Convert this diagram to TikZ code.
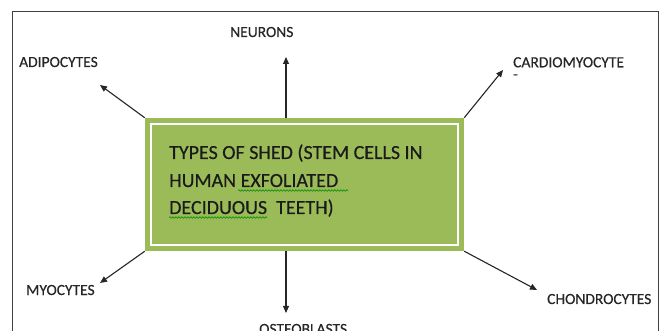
\documentclass[tikz,border=0pt]{standalone}
\usepackage{fontspec}
\setmainfont{Carlito}
\newfontface\semib{Carlito}[FakeBold=0.35]
\usetikzlibrary{arrows.meta,calc,decorations.pathmorphing}
\definecolor{boxgreen}{HTML}{9BBB59}
\definecolor{txt}{HTML}{1A1A1A}
\definecolor{labtxt}{HTML}{262626}
\begin{document}
\begin{tikzpicture}[x=1pt,y=-1pt,
  lab/.style={font=\semib\fontsize{15.5}{16}\selectfont, text=labtxt, inner sep=0pt, anchor=base west},
  boxtxt/.style={font=\semib\fontsize{20}{22}\selectfont, text=txt, inner sep=0pt, anchor=base west},
  arr/.style={-{Triangle[length=7pt,width=6pt]}, line width=1.1pt, draw=black!85},
  squig/.style={draw=green!55!black, line width=0.6pt, decorate, decoration={snake,amplitude=0.8pt,segment length=3pt}}]
\useasboundingbox (0,0) rectangle (659,331);
\clip (0,0) rectangle (659,331);
\fill[white] (0,0) rectangle (659,331);
\draw[black!75, line width=0.8pt] (12,11) rectangle (658,345);
% central box
\node[fill=boxgreen, minimum width=319pt, minimum height=133pt, inner sep=0pt] (c) at (304.5,184.5) {};
\draw[white, line width=1.6pt] ($(c.north west)+(6,6)$) rectangle ($(c.south east)+(-6,-6)$);
\node[boxtxt] (l1) at (169,159) {TYPES OF SHED (STEM CELLS IN};
\node[boxtxt] (l2) at (169,187) {HUMAN EXFOLIATED};
\node[boxtxt] (l3) at (169,214) {DECIDUOUS\ \ TEETH)};
\draw[squig] (238,190.5) -- (348,190.5);
\draw[squig] (169,217.5) -- (267,217.5);
% labels
\node[lab] (neu) at (230,37) {NEURONS};
\node[lab] (adi) at (19,67) {ADIPOCYTES};
\node[lab, anchor=north west, align=left] (car) at (513,57) {CARDIOMYOCYTE\\[-4pt]-};
\node[lab] (myo) at (26,295) {MYOCYTES};
\node[lab] (ost) at (259,334) {OSTEOBLASTS};
\node[lab] (cho) at (547,304) {CHONDROCYTES};
% arrow tips
\coordinate (tN) at (286,57);
\coordinate (tO) at (286,313);
\coordinate (tA) at (100,85);
\coordinate (tC) at (503,70);
\coordinate (tM) at (100,283);
\coordinate (tH) at (537,290);
\draw[arr] (tN |- c.north) -- (tN);
\draw[arr] (tO |- c.south) -- (tO);
\draw[arr] (c.north west) -- (tA);
\draw[arr] (c.north east) -- (tC);
\draw[arr] (c.south west) -- (tM);
\draw[arr] (c.south east) -- (tH);
\end{tikzpicture}
\end{document}
